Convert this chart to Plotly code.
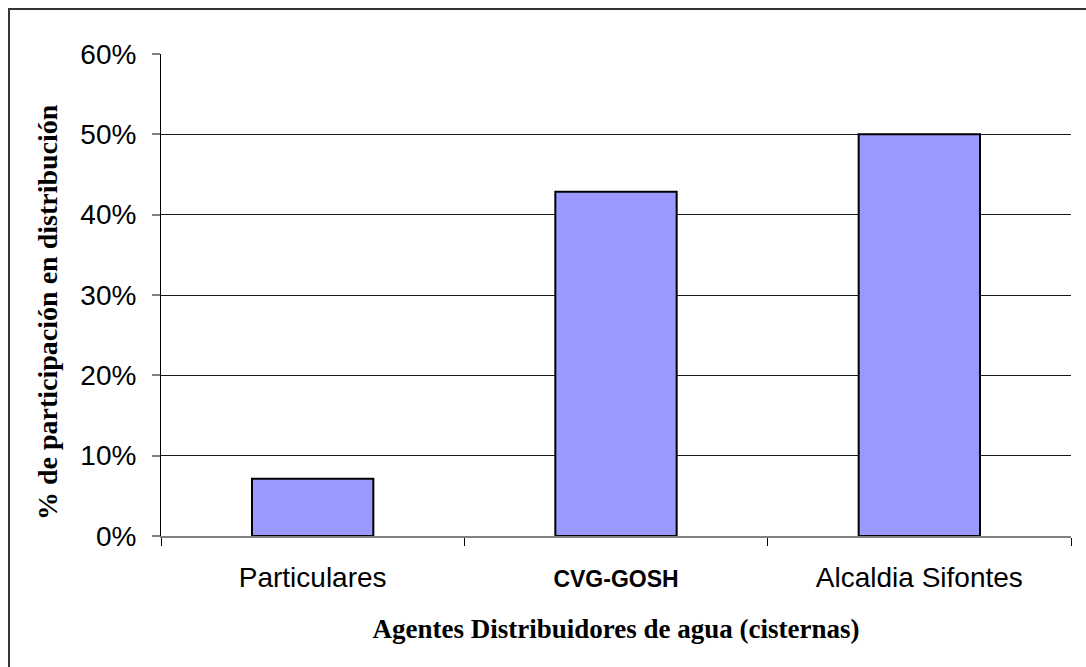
import plotly.graph_objects as go

# Water distribution share by distributing agent
agentes = ["Particulares", "CVG-GOSH", "Alcaldia Sifontes"]
participacion = [0.0714, 0.4286, 0.50]
etiquetas = ["Particulares", "<span style='font-size:23px'><b>CVG-GOSH</b></span>", "Alcaldia Sifontes"]
y_ticks = [0, 0.1, 0.2, 0.3, 0.4, 0.5, 0.6]
y_labels = ["0%", "10%", "20%", "30%", "40%", "50%", "60%"]

fig = go.Figure(
    go.Bar(
        x=agentes,
        y=participacion,
        width=0.4,
        marker=dict(color="#9999FF", line=dict(color="#000000", width=2)),
        hoverinfo="x+y",
    )
)

fig.update_layout(
    width=1086,
    height=667,
    margin=dict(l=161, r=15, t=54, b=131),
    paper_bgcolor="white",
    plot_bgcolor="white",
    showlegend=False,
    font=dict(family="Liberation Sans, Arial, sans-serif", color="#000000"),
    shapes=[
        dict(
            type="rect", xref="paper", yref="paper",
            x0=-0.167, x1=1.2, y0=-0.3, y1=1.0934,
            line=dict(color="#333333", width=2), fillcolor="rgba(0,0,0,0)",
            layer="below",
        )
    ],
    annotations=[
        dict(
            text="<b>% de participación en distribución</b>",
            xref="paper", yref="paper", x=-0.124, y=0.465,
            xanchor="center", yanchor="middle", textangle=-90,
            showarrow=False,
            font=dict(size=28, family="Liberation Serif, DejaVu Serif, serif", color="#000000"),
        )
    ],
)

fig.update_xaxes(
    tickmode="array",
    tickvals=agentes,
    ticktext=etiquetas,
    tickfont=dict(size=28, family="Liberation Sans, Arial, sans-serif"),
    showline=True, linecolor="#808080", linewidth=2,
    ticks="outside", ticklen=8, tickcolor="#000000", tickwidth=1,
    tickson="boundaries",
    ticklabelstandoff=15,
    showgrid=False,
    title=dict(
        text="<b>Agentes Distribuidores de agua (cisternas)</b>",
        font=dict(size=27, family="Liberation Serif, DejaVu Serif, serif"),
        standoff=28,
    ),
)

fig.update_yaxes(
    range=[0, 0.6],
    tickmode="array",
    tickvals=y_ticks,
    ticktext=y_labels,
    tickfont=dict(size=28, family="Liberation Sans, Arial, sans-serif"),
    showline=True, linecolor="#000000", linewidth=1,
    ticks="outside", ticklen=8, tickcolor="#808080", tickwidth=2,
    ticklabelstandoff=10,
    showgrid=True, gridcolor="#1a1a1a", gridwidth=1,
    zeroline=False,
)

fig.write_html("out.html")
